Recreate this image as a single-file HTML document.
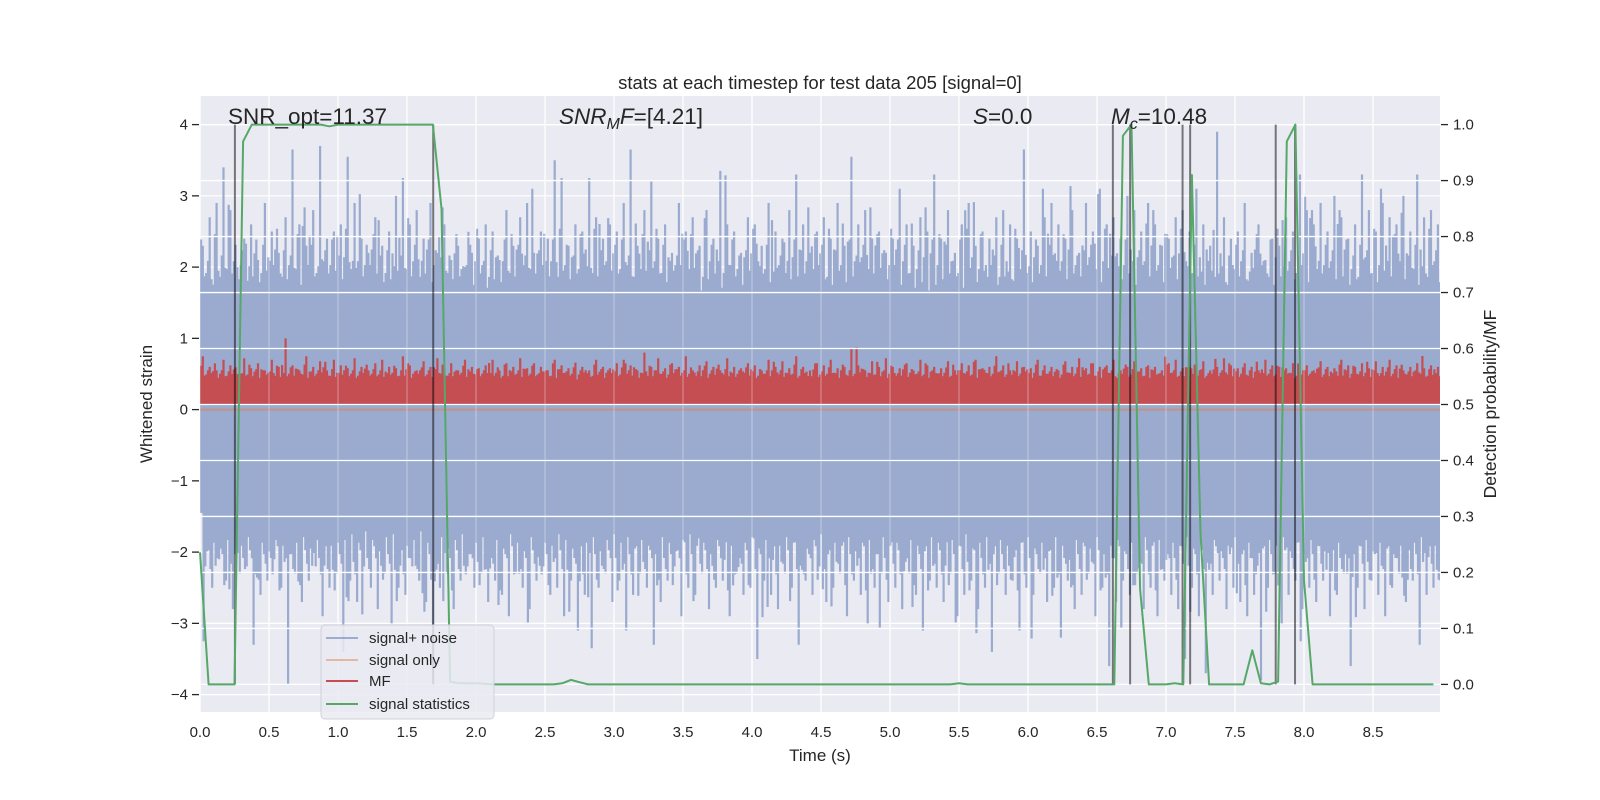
<!DOCTYPE html>
<html><head><meta charset="utf-8">
<style>
html,body{margin:0;padding:0;background:#fff;}
svg{display:block;font-family:"Liberation Sans","DejaVu Sans",sans-serif;}
</style></head>
<body>
<svg id="chart" width="1600" height="800" viewBox="0 0 1600 800" xmlns="http://www.w3.org/2000/svg">
<defs><clipPath id="plotClip"><rect x="200" y="96" width="1240" height="616"/></clipPath></defs>
<rect x="0" y="0" width="1600" height="800" fill="#fff"/>
<rect x="200" y="96" width="1240" height="616" fill="#eaeaf2"/>
<g id="gridL"></g>
<g clip-path="url(#plotClip)">
<g id="noise"></g>
<g id="sigonly"></g>
<g id="mf"></g>
</g>
<g id="gridR"></g>
<g id="vlines"></g>
<g id="stat"></g>
<g id="axes"></g>
<text x="820" y="89" font-size="18.5" text-anchor="middle" fill="#262626">stats at each timestep for test data 205 [signal=0]</text>
<text x="820" y="761" font-size="17" text-anchor="middle" fill="#262626">Time (s)</text>
<text transform="translate(152,404) rotate(-90)" font-size="17" text-anchor="middle" fill="#262626">Whitened strain</text>
<text transform="translate(1496,404) rotate(-90)" font-size="17.5" text-anchor="middle" fill="#262626">Detection probability/MF</text>
<g font-size="22.5" fill="#262626">
<text x="228" y="124">SNR_opt=11.37</text>
<text x="559" y="124"><tspan font-style="italic">SNR</tspan><tspan font-style="italic" font-size="16" dy="5">M</tspan><tspan font-style="italic" dy="-5">F</tspan>=[4.21]</text>
<text x="973" y="124"><tspan font-style="italic">S</tspan>=0.0</text>
<text x="1111" y="124"><tspan font-style="italic">M</tspan><tspan font-style="italic" font-size="16" dy="5">c</tspan><tspan dy="-5">=10.48</tspan></text>
</g>
<g>
<rect x="321" y="625" width="173" height="94" rx="4" fill="#eaeaf2" fill-opacity="0.85" stroke="#d0d0d8"/>
<g font-size="15" fill="#262626">
<line x1="326" y1="638" x2="358" y2="638" stroke="#4C72B0" stroke-opacity="0.5" stroke-width="2"/>
<text x="369" y="643">signal+ noise</text>
<line x1="326" y1="660" x2="358" y2="660" stroke="#DD8452" stroke-opacity="0.5" stroke-width="2"/>
<text x="369" y="665">signal only</text>
<line x1="326" y1="681" x2="358" y2="681" stroke="#C44E52" stroke-width="2"/>
<text x="369" y="686">MF</text>
<line x1="326" y1="704" x2="358" y2="704" stroke="#55A868" stroke-width="2"/>
<text x="369" y="709">signal statistics</text>
</g></g>
</svg>
<script>
const noiseUpper=[2.3,2.7,2.9,3.4,2.8,2.0,2.4,2.6,2.1,2.9,2.5,2.2,2.7,3.65,2.6,2.3,2.8,3.7,2.4,2.5,
2.6,3.55,2.9,2.4,2.2,2.7,2.3,2.5,3.0,3.25,2.6,2.8,2.4,2.9,2.2,2.6,2.1,2.3,2.0,2.2,
2.4,2.6,2.5,2.1,2.8,2.3,2.7,2.9,2.2,2.5,2.4,3.5,3.25,2.3,2.6,2.5,3.25,2.7,2.4,2.6,
2.5,2.9,3.65,2.3,2.8,3.2,2.4,2.6,2.2,2.9,2.5,2.7,2.3,2.8,2.4,3.35,2.6,2.5,2.2,2.7,
2.6,2.3,2.9,2.5,2.4,2.8,3.3,2.6,2.2,2.5,2.7,2.4,2.9,2.3,3.55,2.6,2.8,2.4,2.5,2.2,
2.4,3.1,2.6,2.3,2.7,2.5,3.3,2.4,2.8,2.2,2.6,2.9,2.3,2.5,2.4,2.7,2.8,2.6,2.4,3.65,
2.5,2.3,2.7,2.9,2.6,2.4,2.8,2.2,2.9,2.5,3.1,2.6,2.7,2.4,3.0,2.8,2.5,2.9,2.6,2.3,
2.4,2.7,2.8,2.5,3.1,2.6,2.3,3.9,2.7,2.4,2.5,2.9,2.2,2.6,2.1,2.4,2.3,2.7,2.5,3.3,
2.8,2.6,2.9,2.5,3.0,2.7,2.4,2.6,3.3,2.8,2.5,2.9,2.7,2.6,3.0,2.5,3.3,2.7,2.8,2.6];
const noiseLower=[-2.2,-2.5,-2.1,-2.4,-2.8,-2.3,-2.2,-3.3,-2.6,-2.4,-2.1,-2.5,-3.85,-2.3,-2.7,-2.4,-2.2,-2.9,-2.5,-2.3,
-3.4,-2.4,-2.7,-2.2,-2.5,-2.8,-2.3,-3.0,-2.5,-2.6,-2.2,-2.4,-2.7,-3.85,-2.5,-2.3,-2.8,-2.4,-2.2,-2.5,
-2.3,-2.7,-2.4,-2.6,-2.9,-2.3,-2.5,-2.8,-2.4,-2.2,-2.6,-2.5,-2.9,-2.4,-3.1,-2.6,-3.35,-2.5,-2.3,-2.7,
-2.4,-3.1,-2.6,-2.3,-2.5,-3.3,-2.7,-2.4,-2.2,-2.9,-2.5,-2.6,-2.3,-2.8,-2.5,-2.4,-2.9,-2.3,-2.6,-2.5,
-3.5,-2.4,-2.6,-2.8,-2.3,-2.5,-3.3,-2.4,-2.6,-2.2,-2.7,-2.5,-2.3,-2.9,-2.4,-2.6,-3.0,-2.5,-2.3,-2.7,
-2.5,-2.8,-2.3,-2.6,-3.1,-2.4,-2.5,-2.7,-2.3,-2.9,-2.6,-2.4,-2.8,-2.5,-3.4,-2.3,-2.6,-2.4,-3.1,-2.5,
-2.6,-2.3,-2.7,-2.5,-3.2,-2.4,-2.8,-2.6,-2.3,-2.9,-2.5,-3.6,-2.7,-2.4,-2.6,-2.3,-2.8,-2.5,-2.9,-2.4,
-2.6,-2.8,-3.5,-2.5,-2.9,-3.7,-2.6,-2.4,-2.8,-2.5,-2.7,-2.9,-2.6,-3.8,-2.5,-2.3,-3.0,-2.6,-2.4,-2.8,
-2.5,-2.7,-2.4,-2.9,-2.6,-2.3,-3.6,-2.5,-2.8,-2.4,-2.6,-2.9,-2.5,-2.3,-2.7,-2.4,-3.3,-2.6,-2.5,-2.4];
const noiseBand=[-1.45,1.45];
const mfPeaks=[0.75,0.6,0.55,0.7,0.62,0.5,0.72,0.58,0.65,0.55,0.7,0.6,1.0,0.62,0.55,0.75,0.6,0.68,0.55,0.7,
0.62,0.58,0.72,0.6,0.55,0.65,0.7,0.6,0.58,0.75,0.62,0.55,0.68,0.6,0.72,0.58,0.65,0.55,0.7,0.6,
0.58,0.62,0.7,0.55,0.65,0.6,0.72,0.58,0.65,0.6,0.55,0.7,0.62,0.58,0.66,0.6,0.55,0.7,0.6,0.58,
0.65,0.7,0.62,0.55,0.8,0.6,0.72,0.58,0.65,0.6,0.75,0.55,0.62,0.68,0.6,0.55,0.72,0.6,0.58,0.65,
0.62,0.55,0.7,0.6,0.68,0.58,0.75,0.6,0.55,0.65,0.62,0.7,0.58,0.6,0.85,0.62,0.55,0.68,0.6,0.72,
0.6,0.58,0.65,0.55,0.7,0.62,0.6,0.58,0.68,0.55,0.65,0.62,0.7,0.58,0.6,0.75,0.62,0.55,0.68,0.6,
0.58,0.7,0.62,0.6,0.55,0.68,0.6,0.72,0.58,0.65,0.6,0.62,0.7,0.55,0.6,0.68,0.58,0.62,0.6,0.55,
0.65,0.7,0.58,0.6,0.62,0.68,0.55,0.6,0.72,0.62,0.58,0.65,0.6,0.55,0.7,0.62,0.6,0.58,0.65,0.6,
0.62,0.55,0.68,0.6,0.58,0.7,0.62,0.6,0.65,0.58,0.68,0.6,0.7,0.62,0.55,0.6,0.65,0.58,0.62,0.6];
const mfBand=[0.08,0.36];
const statValues=[0.236,0,0,0,0,0.97,1,1,1,1,1,1,1,1,1,0.997,
1,1,1,1,1,1,1,1,1,1,1,1,0.85,0.005,0.002,0.002,
0.002,0.001,0,0,0,0,0,0,0,0,0.002,0.008,0.004,0,0,0,
0,0,0,0,0,0,0,0,0,0,0,0,0,0,0,0,
0,0,0,0,0,0,0,0,0,0,0,0,0,0,0,0,
0,0,0,0,0,0,0,0,0.002,0,0,0,0,0,0,0,
0,0,0,0,0,0,0,0,0,0,0,0.98,1,0.17,0,0,
0,0.002,0,0.91,0.27,0,0,0,0,0,0.061,0.002,0,0.005,0.97,1,
0.186,0,0,0,0,0,0,0,0,0,0,0,0,0,0,0];
const statStep=0.0625;
const noiseStep=0.05;
const markerTimes=[0.253,1.69,6.615,6.74,7.12,7.175,7.795,7.935];
const xTicks=[0,0.5,1,1.5,2,2.5,3,3.5,4,4.5,5,5.5,6,6.5,7,7.5,8,8.5];
const xTickLabels=["0.0","0.5","1.0","1.5","2.0","2.5","3.0","3.5","4.0","4.5","5.0","5.5","6.0","6.5","7.0","7.5","8.0","8.5"];
const yTicks=[-4,-3,-2,-1,0,1,2,3,4];
const yTickLabels=["\u22124","\u22123","\u22122","\u22121","0","1","2","3","4"];
const y2Ticks=[0,0.1,0.2,0.3,0.4,0.5,0.6,0.7,0.8,0.9,1.0];
const y2TickLabels=["0.0","0.1","0.2","0.3","0.4","0.5","0.6","0.7","0.8","0.9","1.0"];

const NS="http://www.w3.org/2000/svg";
function xS(t){return 200+t*138;}
function yL(v){return 409.6-v*71.25;}
function yR(p){return 684.4-p*559.8;}
function mk(tag,attrs,parent){const e=document.createElementNS(NS,tag);for(const k in attrs)e.setAttribute(k,attrs[k]);parent.appendChild(e);return e;}
const gL=document.getElementById('gridL'),gR=document.getElementById('gridR');
xTicks.forEach(t=>{const l=mk('line',{x1:xS(t),x2:xS(t),y1:96,y2:712,stroke:'#fff','stroke-width':1.3},gL);


const l2=mk('line',{x1:xS(t),x2:xS(t),y1:96,y2:712,stroke:'#fff','stroke-width':1.3,'stroke-opacity':0.3},gR);

});
yTicks.forEach(v=>{const l=mk('line',{x1:200,x2:1440,y1:yL(v),y2:yL(v),stroke:'#fff','stroke-width':1.3},gL);

});
y2Ticks.forEach(v=>{const l=mk('line',{x1:200,x2:1440,y1:yR(v),y2:yR(v),stroke:'#fff','stroke-width':1.3},gR);

});
// noise
const gN=document.getElementById('noise');
const nb=mk('rect',{x:200,y:yL(noiseBand[1]),width:1240,height:yL(noiseBand[0])-yL(noiseBand[1]),fill:'#9aabcf'},gN);


const N=noiseUpper.length;
let d='';
const layers=[[0.02,1.0,0],[0.045,0.55,37],[0.008,0.75,71],[0.033,0.4,113]];
layers.forEach(([off,f,sh])=>{
 for(let i=0;i<N;i++){
  const vu=noiseUpper[(i+sh)%N], vl=noiseLower[(i+sh*3)%N];
  const x=xS(i*noiseStep+off);
  const top=noiseBand[1]+(vu-noiseBand[1])*f;
  const bot=noiseBand[0]+(vl-noiseBand[0])*f;
  d+=`M${x.toFixed(1)},${yL(top).toFixed(1)}V${yL(noiseBand[1]-0.1).toFixed(1)}`;
  d+=`M${(x+2.5).toFixed(1)},${yL(bot).toFixed(1)}V${yL(noiseBand[0]+0.1).toFixed(1)}`;
 }
});
const np=mk('path',{d:d,stroke:'#9aabcf','stroke-width':2.2,fill:'none'},gN);


// signal only
const so=mk('line',{x1:200,x2:1440,y1:yL(0),y2:yL(0),stroke:'#DD8452','stroke-opacity':0.6,'stroke-width':2},document.getElementById('sigonly'));


// MF
const gM=document.getElementById('mf');
const mb=mk('rect',{x:200,y:yL(mfBand[1]),width:1240,height:yL(mfBand[0])-yL(mfBand[1]),fill:'#C44E52'},gM);


let dm='';
const mlayers=[[0.02,1.0,0],[0.045,0.6,53],[0.008,0.8,97],[0.033,0.45,131]];
mlayers.forEach(([off,f,sh])=>{
 for(let i=0;i<N;i++){
  const v=mfPeaks[(i+sh)%N];
  const x=xS(i*noiseStep+off);
  dm+=`M${x.toFixed(1)},${yL(mfBand[1]+(v-mfBand[1])*f).toFixed(1)}V${yL(mfBand[1]-0.05).toFixed(1)}`;
 }
});
const mp=mk('path',{d:dm,stroke:'#C44E52','stroke-width':2.2,fill:'none'},gM);


// vertical markers
const gV=document.getElementById('vlines');
markerTimes.forEach(t=>{const l=mk('line',{x1:xS(t),x2:xS(t),y1:yR(1),y2:yR(0),stroke:'#000','stroke-opacity':0.5,'stroke-width':2},gV);

});
// stat line
const pts=statValues.map((v,i)=>`${xS(i*statStep).toFixed(1)},${yR(v).toFixed(1)}`).join(' ');
const sp=mk('polyline',{points:pts,fill:'none',stroke:'#55A868','stroke-width':2,'stroke-linejoin':'round'},document.getElementById('stat'));


// axes ticks
const gA=document.getElementById('axes');
xTicks.forEach((t,i)=>{const tx=mk('text',{x:xS(t),y:737,'font-size':15,'text-anchor':'middle',fill:'#262626'},gA);tx.textContent=xTickLabels[i];

});
yTicks.forEach((v,i)=>{const l=mk('line',{x1:192,x2:199,y1:yL(v),y2:yL(v),stroke:'#262626','stroke-width':1.3},gA);


const tx=mk('text',{x:188,y:yL(v)+5,'font-size':15,'text-anchor':'end',fill:'#262626'},gA);tx.textContent=yTickLabels[i];

});
y2Ticks.forEach((v,i)=>{const l=mk('line',{x1:1441,x2:1448,y1:yR(v),y2:yR(v),stroke:'#262626','stroke-width':1.3},gA);


const tx=mk('text',{x:1453,y:yR(v)+5,'font-size':15,'text-anchor':'start',fill:'#262626'},gA);tx.textContent=y2TickLabels[i];

});
</script>
</body></html>
